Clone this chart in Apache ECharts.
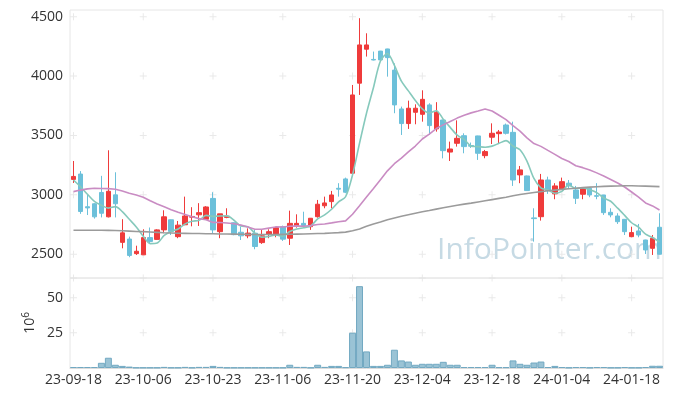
<!DOCTYPE html>
<html><head><meta charset="utf-8">
<script src="https://cdn.jsdelivr.net/npm/echarts@6/dist/echarts.min.js"></script>
<style>html,body{margin:0;padding:0;background:#fff}#c{width:673px;height:396px}</style>
</head><body><div id="c"></div>
<script>
const dates = ['23-09-18','23-09-19','23-09-20','23-09-21','23-09-22','23-09-25','23-09-26','23-09-27',
'23-10-04','23-10-05','23-10-06','23-10-10','23-10-11','23-10-12','23-10-13','23-10-16','23-10-17','23-10-18','23-10-19','23-10-20','23-10-23','23-10-24','23-10-25','23-10-26','23-10-27','23-10-30','23-10-31',
'23-11-01','23-11-02','23-11-03','23-11-06','23-11-07','23-11-08','23-11-09','23-11-10','23-11-13','23-11-14','23-11-15','23-11-16','23-11-17','23-11-20','23-11-21','23-11-22','23-11-23','23-11-24','23-11-27','23-11-28','23-11-29','23-11-30',
'23-12-01','23-12-04','23-12-05','23-12-06','23-12-07','23-12-08','23-12-11','23-12-12','23-12-13','23-12-14','23-12-15','23-12-18','23-12-19','23-12-20','23-12-21','23-12-22','23-12-26','23-12-27','23-12-28',
'24-01-02','24-01-03','24-01-04','24-01-05','24-01-08','24-01-09','24-01-10','24-01-11','24-01-12','24-01-15','24-01-16','24-01-17','24-01-18','24-01-19','24-01-22','24-01-23','24-01-24'];

const openP = [3130,3175,2900,2925,3020,2815,3000,2600,2628,2505,2495,2640,2625,2705,2790,2648,2748,2812,2832,2795,
2970,2690,2810,2765,2685,2655,2677,2598,2668,2668,2732,2635,2735,2760,2732,2816,2908,2943,3055,3134,
3182,3940,4226,4140,4210,4228,4050,3723,3600,3695,3678,3757,3555,3630,3360,3434,3498,3415,3496,3330,
3485,3515,3588,3526,3168,3159,2806,2816,3125,3008,3047,3098,3041,3005,3055,2993,2999,2853,2822,2794,
2648,2696,2620,2550,2727];
const closeP = [3155,2860,2890,2815,2845,3030,2925,2680,2490,2525,2640,2608,2705,2815,2692,2745,2822,2818,2850,2898,
2705,2840,2820,2665,2655,2678,2565,2655,2690,2724,2627,2760,2760,2742,2803,2921,2932,2999,3048,3022,
3841,4262,4262,4135,4136,4155,3757,3600,3729,3729,3804,3583,3695,3372,3386,3476,3406,3410,3350,3364,
3518,3529,3518,3125,3210,3036,2800,3125,3036,3075,3111,3075,2971,3061,2999,2988,2850,2831,2774,2690,
2682,2662,2536,2635,2500];
const lowP = [3100,2840,2830,2800,2810,2810,2810,2550,2475,2494,2494,2592,2620,2677,2662,2635,2745,2735,2738,2790,
2671,2635,2803,2660,2620,2635,2542,2587,2635,2643,2612,2578,2724,2724,2705,2808,2887,2887,2985,3014,
3180,3841,4164,4132,4132,3995,3687,3504,3555,3594,3616,3504,3532,3307,3285,3406,3350,3395,3294,3308,
3428,3434,3508,3075,3098,3033,2606,2783,3008,2963,3041,3056,2923,2963,2980,2963,2831,2811,2755,2662,
2643,2643,2502,2494,2498];
const highP = [3285,3200,3000,2930,3160,3375,3190,2795,2648,2572,2710,2725,2710,2870,2792,2780,2985,2896,2930,2905,
3022,2840,2887,2768,2732,2718,2710,2705,2710,2732,2741,2867,2836,2858,2805,2957,2985,3033,3098,3145,
3925,4487,4360,4206,4212,4230,4107,3743,3793,3762,3880,3771,3780,3632,3448,3627,3518,3440,3498,3378,
3602,3546,3600,3616,3243,3162,2887,3176,3153,3098,3145,3125,3075,3064,3058,3098,3000,2887,2845,2796,
2732,2755,2622,2662,2845];

const ma5 = [3125,3068,3005,2945,2913,2888,2901,2859,2794,2730,2652,2589,2594,2659,2692,2713,2756,2778,2785,2827,
2819,2822,2823,2786,2737,2732,2677,2644,2649,2662,2652,2691,2712,2723,2738,2797,2832,2879,2941,2984,
3168,3434,3687,3904,4127,4190,4089,3957,3875,3794,3724,3689,3708,3637,3568,3502,3467,3410,3406,3401,
3410,3434,3456,3411,3380,3284,3138,3059,3041,3014,3029,3084,3054,3059,3043,3019,2974,2946,2888,2827,
2765,2728,2669,2641,2603];
const ma20 = [3027,3040,3050,3055,3054,3052,3047,3032,3013,2998,2980,2950,2923,2900,2875,2853,2835,2815,2800,2790,
2768,2767,2763,2756,2746,2729,2711,2710,2720,2730,2729,2736,2739,2736,2741,2750,2755,2764,2774,2781,
2837,2908,2981,3054,3128,3202,3262,3309,3361,3411,3470,3511,3558,3589,3618,3646,3670,3690,3706,3723,
3706,3670,3633,3582,3536,3480,3432,3408,3374,3341,3306,3281,3245,3229,3210,3185,3158,3129,3100,3066,
3024,2981,2932,2907,2872];
const maLong = [2702,2702,2702,2702,2702,2701,2700,2698,2695,2692,2690,2687,2684,2681,2679,2677,2676,2675,2674,2673,
2672,2671,2670,2669,2668,2667,2666,2666,2666,2666,2667,2668,2669,2670,2672,2674,2676,2679,2682,2686,
2697,2712,2735,2755,2772,2790,2805,2820,2833,2845,2857,2868,2880,2891,2902,2912,2922,2930,2940,2950,
2960,2970,2980,2992,3003,3012,3020,3027,3034,3040,3046,3051,3056,3061,3065,3068,3071,3073,3075,3076,
3076,3075,3073,3071,3069];

const volume = [0.7,0.7,0.7,0.7,3.7,7.3,2.3,1.5,1.0,0.3,0.3,0.3,0.3,0.8,0.3,0.3,0.8,0.3,0.8,0.8,
1.5,0.8,0.3,0.3,0.3,0.3,0.3,0.3,0.3,0.3,0.3,2.3,0.8,0.8,0.3,2.3,0.8,1.5,1.5,0.6,
25.1,58.2,11.8,1.5,1.5,2.3,13.0,5.4,4.6,2.3,3.0,3.0,3.0,4.4,2.3,2.3,0.7,0.7,0.7,0.7,
2.3,0.6,0.6,5.4,3.0,2.3,3.9,4.6,0.7,1.5,0.7,0.3,0.7,0.7,0.3,0.7,0.7,0.3,0.3,0.7,
0.3,0.3,0.7,1.6,1.6];

const priceTicks = [2500,3000,3500,4000,4500];
const volTicks = [25,50,64];
const labelStep = 10;

const candles = dates.map((d,i)=>[openP[i],closeP[i],lowP[i],highP[i]]);
const crossIdx = dates.map((d,i)=>i).filter(i=>i%labelStep===0);
const priceCross = [];
crossIdx.forEach(i=>priceTicks.forEach(v=>priceCross.push([dates[i],v])));
const volCross = [];
crossIdx.forEach(i=>volTicks.forEach(v=>volCross.push([dates[i],v])));

const FONT = 'Open Sans';
const crossSym = 'path://M3,0h1v3h3v1h-3v3h-1v-3h-3v-1h3z';

const chart = echarts.init(document.getElementById('c'), null, {renderer:'canvas'});
chart.setOption({
  animation:false,
  backgroundColor:'#fff',
  textStyle:{fontFamily:FONT},
  graphic:[{type:'text', left:437, top:235, z:0, silent:true,
    style:{text:'InfoPointer.com', font:'30px "Open Sans"', fill:'#c6dae4'}}],
  grid:[
    {left:70,right:10,top:10,height:268,show:true,borderColor:'#e6e6e6',borderWidth:1},
    {left:70,right:10,top:278,height:90,show:true,borderColor:'#e6e6e6',borderWidth:1}
  ],
  xAxis:[
    {type:'category',gridIndex:0,data:dates,boundaryGap:true,axisLabel:{show:false},axisTick:{show:false},axisLine:{show:false},splitLine:{show:false}},
    {type:'category',gridIndex:1,data:dates,boundaryGap:true,
      axisLine:{lineStyle:{color:'#dcdcdc'}},axisTick:{show:false},
      axisLabel:{interval:labelStep-1,color:'#333',fontSize:14,fontFamily:FONT,margin:5},splitLine:{show:false}}
  ],
  yAxis:[
    {type:'value',gridIndex:0,min:2300,max:4556,scale:true,
      axisLine:{show:false},axisTick:{show:false},splitLine:{show:false},
      axisLabel:{color:'#333',fontSize:14,fontFamily:FONT,margin:7,
        formatter:v=>priceTicks.indexOf(v)>=0?String(v):''}},
    {type:'value',gridIndex:1,min:0,max:64,interval:25,
      axisLine:{show:false},axisTick:{show:false},splitLine:{show:false},
      axisLabel:{color:'#333',fontSize:14,fontFamily:FONT,margin:7,
        formatter:v=>(v===25||v===50)?String(v):''},
      name:'{a|10}{b|6}',nameLocation:'middle',nameRotate:90,nameGap:30,nameMoveOverlap:false,
      nameTextStyle:{color:'#333',rich:{a:{fontSize:14,fontFamily:FONT,color:'#333'},b:{fontSize:10,fontFamily:FONT,color:'#333',padding:[0,0,9,0]}}}}
  ],
  series:[
    {type:'scatter',xAxisIndex:0,yAxisIndex:0,data:priceCross,symbol:crossSym,symbolSize:7,silent:true,z:1,itemStyle:{color:'#e4e4e4'}},
    {type:'scatter',xAxisIndex:1,yAxisIndex:1,data:volCross,symbol:crossSym,symbolSize:7,silent:true,z:1,itemStyle:{color:'#e4e4e4'}},
    {type:'candlestick',name:'price',xAxisIndex:0,yAxisIndex:0,data:candles,barWidth:5,
      itemStyle:{color:'#ef3b3b',color0:'#6cc0da',borderColor:'#ef3b3b',borderColor0:'#6cc0da',borderWidth:1}},
    {type:'line',name:'MA5',xAxisIndex:0,yAxisIndex:0,data:ma5,showSymbol:false,smooth:0.3,
      lineStyle:{color:'#86c9bc',width:1.6}},
    {type:'line',name:'MA20',xAxisIndex:0,yAxisIndex:0,data:ma20,showSymbol:false,
      lineStyle:{color:'#c98cc3',width:1.6}},
    {type:'line',name:'MALong',xAxisIndex:0,yAxisIndex:0,data:maLong,showSymbol:false,
      lineStyle:{color:'#9b9b9b',width:1.6}},
    {type:'bar',name:'volume',xAxisIndex:1,yAxisIndex:1,data:volume,barCategoryGap:'0%',
      itemStyle:{color:'#9ac3d5',borderColor:'#72a9c2',borderWidth:1}}
  ]
});
</script></body></html>
